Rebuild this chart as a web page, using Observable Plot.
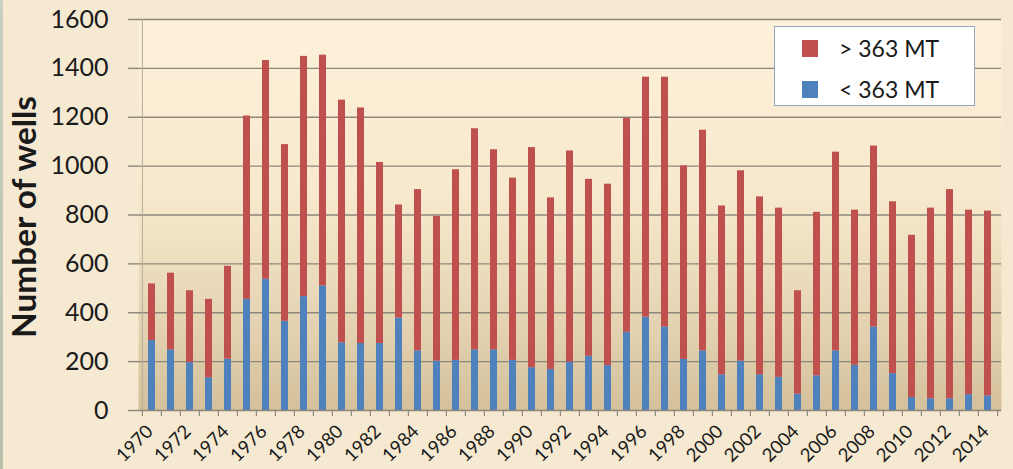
<!DOCTYPE html>
<html>
<head>
<meta charset="utf-8">
<script src="https://cdn.jsdelivr.net/npm/d3@7"></script>
<script src="https://cdn.jsdelivr.net/npm/@observablehq/plot@0.6"></script>
<style>
  html, body { margin: 0; padding: 0; }
  body { background: #f6e9d2; width: 1013px; height: 469px; overflow: hidden; font-family: Lato, "Open Sans", sans-serif; }
  #wrap { position: relative; width: 1013px; height: 469px; }
  #edge { position: absolute; left: 0; top: 0; width: 3px; height: 469px; background: linear-gradient(#c9cfc4, #b9bfa9); }
  #legend { position: absolute; left: 774px; top: 26px; width: 201px; height: 80px; background: #ffffff; border: 1.5px solid #94a6c4; box-sizing: border-box; }
  .item { position: absolute; left: 27px; display: flex; align-items: center; font-size: 23px; color: #1a1a1a; }
  .sw { width: 16px; height: 17px; margin-right: 21px; }
</style>
</head>
<body>
<div id="wrap">
  <div id="chart"></div>
  <div id="edge"></div>
  <div id="legend"></div>
</div>
<script>
// ---- data ----
const years = [1970,1971,1972,1973,1974,1975,1976,1977,1978,1979,1980,1981,1982,1983,1984,1985,1986,1987,1988,1989,1990,1991,1992,1993,1994,1995,1996,1997,1998,1999,2000,2001,2002,2003,2004,2005,2006,2007,2008,2009,2010,2011,2012,2013,2014];
// wells < 363 MT (blue, bottom segment)
const under363 = [286,248,196,134,210,455,537,365,466,510,277,274,274,378,244,202,205,248,248,205,175,168,198,222,184,320,382,342,209,244,146,202,146,136,67,142,244,185,342,151,53,48,48,65,60];
// wells > 363 MT (red, top segment)
const over363 = [232,314,294,321,380,750,895,723,983,944,993,964,741,463,660,592,780,905,819,746,901,702,864,724,742,875,982,1022,792,903,691,779,728,692,423,669,813,635,740,703,664,780,856,755,756];
const seriesNames = ["< 363 MT", "> 363 MT"];
const seriesColors = ["#4f81bd", "#c0504d"];
const legendOrder = ["> 363 MT", "< 363 MT"];
const yTicks = [0,200,400,600,800,1000,1200,1400,1600];
const xTickLabels = years.filter(y => y % 2 === 0);
const yTitle = "Number of wells";

// table for the library
const rows = [];
years.forEach((yr, i) => {
  rows.push({year: yr, series: seriesNames[0], value: under363[i]});
  rows.push({year: yr, series: seriesNames[1], value: over363[i]});
});

const W = 1013, H = 469;
const mL = 138, mR = 12, mT = 19, mB = 59;
const step = (W - mL - mR) / years.length;
const grid = "#8d877b";

const chart = Plot.plot({
  width: W, height: H,
  marginLeft: mL, marginRight: mR, marginTop: mT, marginBottom: mB,
  style: { background: "transparent", fontFamily: "Lato, 'Open Sans', sans-serif", color: "#1a1a1a", overflow: "visible" },
  x: { type: "band", domain: years, paddingInner: 0.61, paddingOuter: 0.305 },
  y: { domain: [0, 1600] },
  color: { domain: seriesNames, range: seriesColors },
  marks: [
    Plot.frame({ fill: "url(#plotBg)", stroke: "none" }),
    Plot.ruleY(yTicks.filter(d => d > 0), { stroke: grid, strokeWidth: 1.4 }),
    Plot.ruleX([0], { x: () => years[0], dx: -step / 2, stroke: "#b7ad9c", strokeWidth: 1 }),
    Plot.barY(rows, Plot.stackY({ order: seriesNames }, { x: "year", y: "value", fill: "series" })),
    Plot.ruleY([0], { stroke: grid, strokeWidth: 1.4 }),
    Plot.ruleX(years, { x: d => d, y1: 0, y2: 0, insetBottom: -6, dx: -step / 2, stroke: grid, strokeWidth: 1.2 }),
    Plot.ruleX([years[years.length - 1]], { x: d => d, y1: 0, y2: 0, insetBottom: -6, dx: step / 2, stroke: grid, strokeWidth: 1.2 }),
    Plot.axisY(yTicks, { tickSize: 10, tickPadding: 20, fontSize: 25, stroke: grid, strokeWidth: 1.4, label: null, tickFormat: d => String(d) }),
    Plot.axisX(xTickLabels, { tickSize: 0, tickPadding: 10, tickRotate: -45, fontSize: 18.5, label: null, tickFormat: d => String(d), dx: -2, dy: 8 }),
    Plot.text([yTitle], { text: d => d, frameAnchor: "left", textAnchor: "middle", lineAnchor: "middle", rotate: -90, dx: -113, dy: 2, fontSize: 32, fontWeight: "bold", fill: "#1a1a1a", className: "ytitle" })
  ]
});

// gradient for the plot area
const svg = d3.select(chart);
const defs = svg.insert("defs", ":first-child");
const g = defs.append("linearGradient").attr("id", "plotBg").attr("x1", 0).attr("y1", 0).attr("x2", 0).attr("y2", 1);
[[0, "#fdf1da"], [0.45, "#f7e9cd"], [0.75, "#e6d5b5"], [1, "#d4c09a"]].forEach(([o, c]) => g.append("stop").attr("offset", o).attr("stop-color", c));
svg.selectAll(".ytitle text").attr("textLength", 242).attr("lengthAdjust", "spacingAndGlyphs");

document.getElementById("chart").appendChild(chart);

// legend
const leg = document.getElementById("legend");
legendOrder.forEach((name, k) => {
  const it = document.createElement("div");
  it.className = "item";
  it.style.top = (k === 0 ? 7 : 48) + "px";
  const sw = document.createElement("span");
  sw.className = "sw";
  sw.style.background = seriesColors[seriesNames.indexOf(name)];
  const tx = document.createElement("span");
  tx.textContent = name;
  it.appendChild(sw); it.appendChild(tx);
  leg.appendChild(it);
});
</script>
</body>
</html>
